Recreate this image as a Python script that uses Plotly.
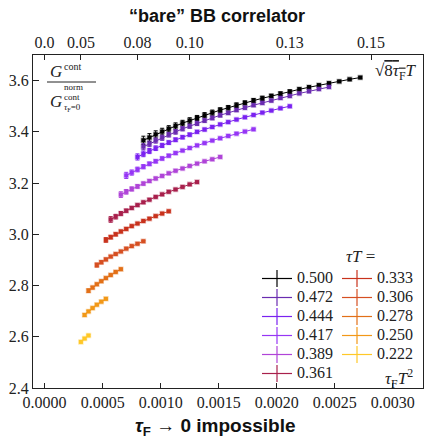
import plotly.graph_objects as go

# ---------------- data ----------------
labels = ["0.500", "0.472", "0.444", "0.417", "0.389", "0.361",
          "0.333", "0.306", "0.278", "0.250", "0.222"]
colors = ["#000000", "#6a2cb0", "#7a22f0", "#9636f5", "#b044d8", "#a8204c",
          "#c8321c", "#d64f22", "#e27018", "#f29818", "#ffc828"]

x_0500 = [0.0008508, 0.0009031, 0.0009570, 0.0010125, 0.0010695, 0.0011281, 0.0011883,
          0.0012500, 0.0013133, 0.0013781, 0.0014445, 0.0015125, 0.0015820, 0.0016531,
          0.0017258, 0.0018000, 0.0018758, 0.0019531, 0.0020320, 0.0021125, 0.0021945,
          0.0022781, 0.0023633, 0.0024500, 0.0025383, 0.0026281, 0.0027195]
y_0500 = [3.367, 3.378, 3.390, 3.401, 3.412, 3.423, 3.434, 3.444, 3.454, 3.465, 3.475,
          3.485, 3.494, 3.504, 3.513, 3.522, 3.531, 3.540, 3.549, 3.557, 3.566, 3.574,
          3.582, 3.590, 3.597, 3.605, 3.612]
e_0500 = [0.016, 0.015, 0.014, 0.013, 0.012, 0.012, 0.011, 0.011, 0.010, 0.010, 0.010,
          0.009, 0.009, 0.009, 0.008, 0.008, 0.008, 0.007, 0.007, 0.007, 0.006, 0.006,
          0.005, 0.004, 0.003, 0.003, 0.003]

x_0472 = [0.0008508, 0.0009031, 0.0009570, 0.0010125, 0.0010695, 0.0011281, 0.0011883,
          0.0012500, 0.0013133, 0.0013781, 0.0014445, 0.0015125, 0.0015820, 0.0016531,
          0.0017258, 0.0018000, 0.0018758, 0.0019531, 0.0020320, 0.0021125, 0.0021945,
          0.0022781, 0.0023633, 0.0024500]
y_0472 = [3.342, 3.353, 3.366, 3.377, 3.389, 3.400, 3.412, 3.422, 3.433, 3.444, 3.454,
          3.465, 3.474, 3.485, 3.494, 3.504, 3.513, 3.522, 3.532, 3.540, 3.550, 3.558,
          3.567, 3.575]
e_0472 = [0.012, 0.011, 0.010, 0.010, 0.009, 0.009, 0.008, 0.008, 0.008, 0.007, 0.007,
          0.007, 0.006, 0.006, 0.006, 0.005, 0.005, 0.005, 0.004, 0.004, 0.004, 0.003,
          0.003, 0.003]

x_0444 = [0.0008000, 0.0008508, 0.0009031, 0.0009570, 0.0010125, 0.0010695, 0.0011281,
          0.0011883, 0.0012500, 0.0013133, 0.0013781, 0.0014445, 0.0015125, 0.0015820,
          0.0016531, 0.0017258, 0.0018000, 0.0018758, 0.0019531, 0.0020320, 0.0021125]
y_0444 = [3.302, 3.314, 3.325, 3.336, 3.347, 3.358, 3.369, 3.379, 3.389, 3.400, 3.409,
          3.419, 3.429, 3.438, 3.448, 3.457, 3.466, 3.475, 3.483, 3.492, 3.500]
e_0444 = [0.012, 0.011, 0.010, 0.009, 0.008, 0.007, 0.007, 0.006, 0.006, 0.005, 0.005,
          0.005, 0.004, 0.004, 0.004, 0.003, 0.003, 0.003, 0.003, 0.003, 0.003]

x_0417 = [0.0007031, 0.0007508, 0.0008000, 0.0008508, 0.0009031, 0.0009570, 0.0010125,
          0.0010695, 0.0011281, 0.0011883, 0.0012500, 0.0013133, 0.0013781, 0.0014445,
          0.0015125, 0.0015820, 0.0016531, 0.0017258, 0.0018000]
y_0417 = [3.230, 3.241, 3.253, 3.264, 3.275, 3.285, 3.296, 3.307, 3.317, 3.327, 3.337,
          3.347, 3.356, 3.366, 3.375, 3.384, 3.393, 3.401, 3.410]
e_0417 = [0.012, 0.010, 0.009, 0.008, 0.007, 0.006, 0.006, 0.005, 0.005, 0.004, 0.004,
          0.004, 0.003, 0.003, 0.003, 0.003, 0.003, 0.003, 0.003]

x_0389 = [0.0006570, 0.0007031, 0.0007508, 0.0008000, 0.0008508, 0.0009031, 0.0009570,
          0.0010125, 0.0010695, 0.0011281, 0.0011883, 0.0012500, 0.0013133, 0.0013781,
          0.0014445, 0.0015125]
y_0389 = [3.155, 3.166, 3.177, 3.187, 3.198, 3.208, 3.218, 3.228, 3.238, 3.248, 3.257,
          3.267, 3.276, 3.285, 3.293, 3.302]
e_0389 = [0.011, 0.009, 0.008, 0.007, 0.006, 0.005, 0.005, 0.004, 0.004, 0.003, 0.003,
          0.003, 0.003, 0.003, 0.003, 0.003]

x_0361 = [0.0005695, 0.0006125, 0.0006570, 0.0007031, 0.0007508, 0.0008000, 0.0008508,
          0.0009031, 0.0009570, 0.0010125, 0.0010695, 0.0011281, 0.0011883, 0.0012500,
          0.0013133]
y_0361 = [3.058, 3.069, 3.081, 3.092, 3.103, 3.114, 3.125, 3.135, 3.146, 3.156, 3.166,
          3.175, 3.185, 3.195, 3.204]
e_0361 = [0.011, 0.009, 0.008, 0.006, 0.005, 0.004, 0.004, 0.003, 0.003, 0.003, 0.003,
          0.003, 0.003, 0.003, 0.003]

x_0333 = [0.0005281, 0.0005695, 0.0006125, 0.0006570, 0.0007031, 0.0007508, 0.0008000,
          0.0008508, 0.0009031, 0.0009570, 0.0010125, 0.0010695]
y_0333 = [2.978, 2.989, 3.000, 3.011, 3.021, 3.032, 3.042, 3.052, 3.061, 3.071, 3.081, 3.090]
e_0333 = [0.009, 0.007, 0.006, 0.005, 0.004, 0.003, 0.003, 0.003, 0.003, 0.003, 0.003, 0.003]

x_0306 = [0.0004500, 0.0004883, 0.0005281, 0.0005695, 0.0006125, 0.0006570, 0.0007031,
          0.0007508, 0.0008000, 0.0008508]
y_0306 = [2.880, 2.891, 2.902, 2.913, 2.923, 2.933, 2.944, 2.954, 2.963, 2.973]
e_0306 = [0.008, 0.006, 0.005, 0.004, 0.003, 0.003, 0.003, 0.003, 0.003, 0.003]

x_0278 = [0.0003781, 0.0004133, 0.0004500, 0.0004883, 0.0005281, 0.0005695, 0.0006125,
          0.0006570]
y_0278 = [2.780, 2.792, 2.805, 2.817, 2.829, 2.841, 2.853, 2.864]
e_0278 = [0.007, 0.005, 0.004, 0.003, 0.003, 0.003, 0.003, 0.003]

x_0250 = [0.0003445, 0.0003781, 0.0004133, 0.0004500, 0.0004883, 0.0005281]
y_0250 = [2.685, 2.699, 2.712, 2.725, 2.737, 2.748]
e_0250 = [0.005, 0.004, 0.003, 0.003, 0.003, 0.003]

x_0222 = [0.0003125, 0.0003445, 0.0003781]
y_0222 = [2.580, 2.593, 2.605]
e_0222 = [0.004, 0.003, 0.003]

top_tick_s = [0.0, 0.05, 0.08, 0.10, 0.13, 0.15]
top_tick_text = ["0.0", "0.05", "0.08", "0.10", "0.13", "0.15"]

series_x = [x_0500, x_0472, x_0444, x_0417, x_0389, x_0361, x_0333, x_0306, x_0278, x_0250, x_0222]
series_y = [y_0500, y_0472, y_0444, y_0417, y_0389, y_0361, y_0333, y_0306, y_0278, y_0250, y_0222]
series_e = [e_0500, e_0472, e_0444, e_0417, e_0389, e_0361, e_0333, e_0306, e_0278, e_0250, e_0222]

# ---------------- layout geometry ----------------
W, H = 426, 441
ML, MR, MT, MB = 33, 3, 55, 53
PW, PH = W - ML - MR, H - MT - MB
XR = [-0.0001, 0.00326]
YR = [2.4, 3.7]
SERIF = "Liberation Serif"
SANS = "Liberation Sans"


def px(x):
    return (x - ML) / PW


def py(y):
    return (H - MB - y) / PH


def rgba(hexc, a):
    h = hexc.lstrip("#")
    return "rgba(%d,%d,%d,%.2f)" % (int(h[0:2], 16), int(h[2:4], 16), int(h[4:6], 16), a)


fig = go.Figure()

for xs, ys, es, c in zip(series_x, series_y, series_e, colors):
    fig.add_trace(go.Scatter(
        x=xs, y=ys, mode="lines+markers", showlegend=False,
        line=dict(color=c, width=1),
        marker=dict(symbol="square", size=4, color=c,
                    line=dict(width=1.5, color=rgba(c, 0.35))),
        error_y=dict(type="data", array=es, visible=True, color=c, thickness=1, width=2),
        xaxis="x", yaxis="y",
    ))

for i, (lab, c) in enumerate(zip(labels, colors)):
    fig.add_trace(go.Scatter(
        x=[None], y=[None], mode="lines+markers",
        name='<span style="font-size:16px">%s</span>' % lab,
        line=dict(color=c, width=1.2),
        marker=dict(symbol="line-ns-open", size=12, color=c, line=dict(width=1.2, color=c)),
        legend="legend" if i < 6 else "legend2",
    ))

# invisible trace on top axis
fig.add_trace(go.Scatter(x=[None], y=[None], xaxis="x2", yaxis="y", showlegend=False))

tickfont = dict(family=SERIF, size=16, color="#222")
axcommon = dict(showgrid=False, zeroline=False, showline=True, linecolor="#222", linewidth=1.2,
                ticks="inside", tickcolor="#222", tickwidth=1, tickfont=tickfont)

leg_common = dict(xanchor="left", yanchor="top", bgcolor="rgba(0,0,0,0)",
                  font=dict(family=SERIF, size=11, color="#222"), tracegroupgap=0,
                  itemclick=False)

fig.update_layout(
    width=W, height=H,
    margin=dict(l=ML, r=MR, t=MT, b=MB),
    paper_bgcolor="white", plot_bgcolor="white",
    title=dict(text="“bare” BB correlator", x=217 / W, xref="container", xanchor="center",
               y=1 - 16 / H, yref="container", yanchor="middle",
               font=dict(family=SANS, size=18, color="#111", weight="bold")),
    xaxis=dict(range=XR, tick0=0, dtick=0.0005, tickformat=".4f", ticklen=5, mirror=False,
               **axcommon),
    xaxis2=dict(range=XR, overlaying="x", side="top", tickvals=[s * s / 8 for s in top_tick_s],
                ticktext=top_tick_text, ticklen=5, anchor="y", **axcommon),
    yaxis=dict(range=YR, tick0=2.4, dtick=0.2, tickformat=".1f", ticklen=6, mirror=True,
               **axcommon),
    legend=dict(x=px(257), y=py(264), **leg_common),
    legend2=dict(x=px(337), y=py(264), **leg_common),
    showlegend=True,
)

ann = []
mfont = dict(family=SERIF, size=17, color="#222")
sfont = dict(family=SERIF, size=10, color="#222")
tfont = dict(family=SERIF, size=9, color="#222")


def add(text, x, y, font, xanchor="center"):
    ann.append(dict(text=text, x=px(x), y=py(y), xref="paper", yref="paper", showarrow=False,
                    xanchor=xanchor, yanchor="middle", font=font, borderpad=0))


# fraction label (top-left)
add("<i>G</i>", 49, 71, mfont, "left")
add("cont", 63, 66, sfont, "left")
add("<i>G</i>", 49, 101, mfont, "left")
add("norm", 63, 87, tfont, "left")
add("cont", 63, 97, tfont, "left")
add("<i>τ</i><sub>F</sub>=0", 63, 108, tfont, "left")
# top-right label
add('√<span style="text-decoration:overline">8<i>τ</i><sub>F</sub></span><i>T</i>', 396, 72, mfont)
# bottom-right label
add("<i>τ</i><sub>F</sub><i>T</i><sup>2</sup>", 399, 378, mfont)
# legend title
add("<i>τT</i> =", 360, 256, mfont)
# x-axis title
add('<b><i>τ</i><sub>F</sub> → 0 impossible</b>', 215, 427,
    dict(family=SANS, size=19, color="#111"))

fig.update_layout(annotations=ann)
fig.add_shape(type="line", xref="paper", yref="paper", x0=px(47), x1=px(96), y0=py(82), y1=py(82),
              line=dict(color="#222", width=1))

fig.write_html("out.html")
